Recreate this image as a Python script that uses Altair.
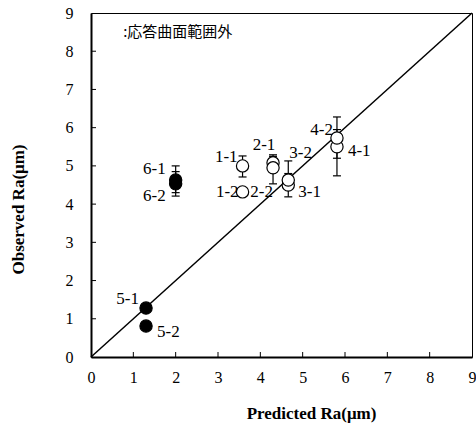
import altair as alt
import pandas as pd

# ---- data ----
labels    = ["1-1", "1-2", "2-1", "2-2", "3-1", "3-2", "4-1", "4-2", "5-1", "5-2", "6-1", "6-2"]
predicted = [3.58, 3.58, 4.30, 4.30, 4.66, 4.66, 5.81, 5.81, 1.30, 1.30, 2.00, 2.00]
observed  = [5.00, 4.32, 5.08, 4.95, 4.50, 4.63, 5.50, 5.73, 1.28, 0.81, 4.63, 4.53]
err_lo    = [4.71, None, 4.87, 4.53, 4.19, 4.42, 4.74, 5.20, None, None, 4.30, 4.21]
err_hi    = [5.26, None, 5.29, 5.25, 4.80, 5.13, 5.95, 6.28, None, None, 5.00, 4.85]
outside   = [False, False, False, False, False, False, False, False, True, True, True, True]
diag_x = [0, 9]
diag_y = [0, 9]
tick_vals = [1, 2, 3, 4, 5, 6, 7, 8]
axis_vals = [0, 1, 2, 3, 4, 5, 6, 7, 8, 9]
note_text = ":応答曲面範囲外"

# ---- styles (label offsets in px) ----
label_style = {
    "1-1": (-5, -9, "right"), "1-2": (-4, 0, "right"),
    "2-1": (-9, -18, "center"), "2-2": (0, 24, "right"),
    "3-1": (10, 7, "left"), "3-2": (1, -27, "left"),
    "4-1": (11, 4, "left"), "4-2": (-4, -8, "right"),
    "5-1": (-7, -9, "right"), "5-2": (11, 6, "left"),
    "6-1": (-10, -11, "right"), "6-2": (-10, 12, "right"),
}

W, H = 381, 344
SERIF = "Liberation Serif"

df = pd.DataFrame({"label": labels, "pred": predicted, "obs": observed,
                   "lo": err_lo, "hi": err_hi, "outside": outside})
err_df = df.dropna(subset=["lo", "hi"])
diag_df = pd.DataFrame({"x": diag_x, "y": diag_y})
ticks_df = pd.DataFrame({"v": tick_vals})

xs = alt.Scale(domain=[0, 9], nice=False, zero=False)
ys = alt.Scale(domain=[0, 9], nice=False, zero=False)

x_axis = alt.Axis(values=axis_vals, format="d", title="Predicted Ra(μm)",
                  labelPadding=12, titleX=220, titleY=61, titleBaseline="alphabetic")
y_axis = alt.Axis(values=axis_vals, format="d", title="Observed Ra(μm)",
                  labelPadding=18, titleX=-73, titleY=196, titleBaseline="middle",
                  titleAngle=-90)


def X(field):
    return alt.X(field, type="quantitative", scale=xs, axis=x_axis)


def Y(field):
    return alt.Y(field, type="quantitative", scale=ys, axis=y_axis)


base = alt.Chart(df)

diag = alt.Chart(diag_df).mark_line(color="black", strokeWidth=1.5).encode(x=X("x"), y=Y("y"))

xticks = alt.Chart(ticks_df).mark_rule(color="black", strokeWidth=1).encode(
    x=X("v"), y=alt.value(H), y2=alt.value(H - 5))
yticks = alt.Chart(ticks_df).mark_rule(color="black", strokeWidth=1).encode(
    y=Y("v"), x=alt.value(0), x2=alt.value(5))

ebar = alt.Chart(err_df).mark_rule(color="black", strokeWidth=1.2).encode(
    x=X("pred"), y=Y("lo"), y2="hi:Q")
cap_lo = alt.Chart(err_df).mark_tick(color="black", orient="horizontal", size=8,
                                     thickness=1.2, opacity=1).encode(x=X("pred"), y=Y("lo"))
cap_hi = alt.Chart(err_df).mark_tick(color="black", orient="horizontal", size=8,
                                     thickness=1.2, opacity=1).encode(x=X("pred"), y=Y("hi"))

pts = base.mark_point(shape="circle", size=150, filled=True, stroke="black",
                      strokeWidth=1.2, opacity=1).encode(
    x=X("pred"), y=Y("obs"),
    fill=alt.Fill("outside:N", scale=alt.Scale(domain=[False, True], range=["white", "black"]),
                  legend=None),
)

texts = []
for lab in labels:
    dx, dy, al = label_style[lab]
    texts.append(
        base.transform_filter(alt.datum.label == lab).mark_text(
            font=SERIF, fontSize=17, color="black", dx=dx, dy=dy, align=al, baseline="middle"
        ).encode(x=X("pred"), y=Y("obs"), text="label:N")
    )

note = alt.Chart(pd.DataFrame({"x": [0.76], "y": [8.5], "t": [note_text]})).mark_text(
    font="Noto Sans CJK JP", fontSize=15, color="black", align="left", baseline="middle"
).encode(x=X("x"), y=Y("y"), text="t:N")

chart = alt.layer(diag, xticks, yticks, ebar, cap_lo, cap_hi, pts, *texts, note).properties(
    width=W, height=H,
    autosize=alt.AutoSizeParams(type="none"),
    padding={"left": 91, "top": 13, "right": 4, "bottom": 68},
    background="white",
).configure(font=SERIF).configure_view(
    stroke="black", strokeWidth=1
).configure_axis(
    ticks=False, tickSize=0, grid=False, domainColor="black", domainWidth=2,
    labelFont=SERIF, labelFontSize=16, labelColor="black", labelFlush=False,
    labelOverlap=False, titleFont=SERIF, titleFontSize=17, titleFontWeight="bold",
    titleColor="black",
)

chart.save("out.html", embed_options={"renderer": "svg", "actions": False})
